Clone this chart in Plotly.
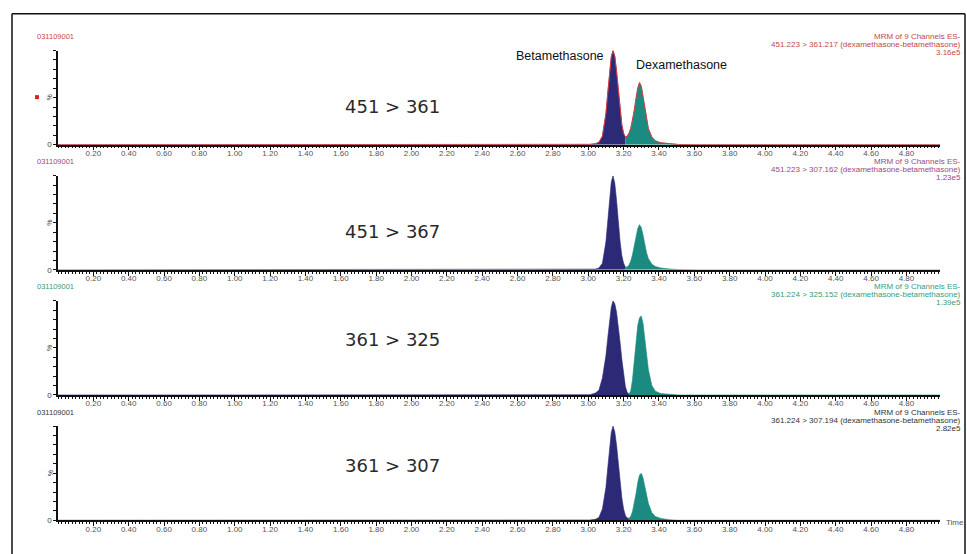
import plotly.graph_objects as go

W, H = 967, 554

# ---------------- data ----------------
TIME = [0.00, 2.91, 3.01, 3.04, 3.06, 3.08, 3.10, 3.11, 3.12, 3.13,
        3.14, 3.15, 3.16, 3.17, 3.18, 3.19, 3.20, 3.21, 3.22, 3.23,
        3.24, 3.25, 3.26, 3.27, 3.28, 3.29, 3.30, 3.31, 3.32, 3.33,
        3.34, 3.36, 3.38, 3.41, 3.46, 3.51, 3.61, 4.99]

P1_451_361 = [0, 0, 0.3, 1, 2.5, 9, 33, 54, 76, 93,
              100, 94, 78, 56, 36, 21, 12, 8, 9, 12,
              17, 25, 36, 49, 60, 66, 62, 51, 38, 26,
              17, 8, 4, 2, 0.8, 0.2, 0, 0]
P2_451_367 = [0, 0, 0.3, 0.8, 2, 7, 30, 52, 75, 93,
              100, 92, 74, 50, 30, 15, 7, 3, 3, 5,
              9, 16, 25, 35, 44, 48, 45, 37, 27, 18,
              12, 6, 3.5, 2, 1, 0.3, 0, 0]
P3_361_325 = [0, 0, 0.3, 2, 5, 18, 42, 60, 78, 93,
              100, 97, 88, 74, 56, 38, 20, 9, 3, 1,
              4, 16, 38, 58, 74, 82, 84, 76, 60, 42,
              27, 10, 4, 1.5, 0.5, 0, 0, 0]
P4_361_307 = [0, 0, 0.3, 1, 3, 12, 35, 55, 76, 93,
              100, 94, 80, 60, 40, 24, 12, 5, 2.5, 2,
              4, 9, 17, 28, 40, 48, 50, 45, 36, 26,
              18, 8, 4, 2, 0.5, 0, 0, 0]
PANELS = [P1_451_361, P2_451_367, P3_361_325, P4_361_307]
VALLEY_INDEX = [17, 17, 19, 19]   # split between Betamethasone / Dexamethasone

TRANSITIONS = ["451 > 361", "451 > 367", "361 > 325", "361 > 307"]
CHANNELS = ["451.223 > 361.217 (dexamethasone-betamethasone)",
            "451.223 > 307.162 (dexamethasone-betamethasone)",
            "361.224 > 325.152 (dexamethasone-betamethasone)",
            "361.224 > 307.194 (dexamethasone-betamethasone)"]
INTENSITIES = ["3.16e5", "1.23e5", "1.39e5", "2.82e5"]
SAMPLE = "031109001"
HEADER = "MRM of 9 Channels ES-"
X_TICKS = [0.2, 0.4, 0.6, 0.8, 1.0, 1.2, 1.4, 1.6, 1.8, 2.0, 2.2, 2.4,
           2.6, 2.8, 3.0, 3.2, 3.4, 3.6, 3.8, 4.0, 4.2, 4.4, 4.6, 4.8]
X_TICK_LABELS = ["0.20", "0.40", "0.60", "0.80", "1.00", "1.20", "1.40",
                 "1.60", "1.80", "2.00", "2.20", "2.40", "2.60", "2.80",
                 "3.00", "3.20", "3.40", "3.60", "3.80", "4.00", "4.20",
                 "4.40", "4.60", "4.80"]
Y_TICKS = [0, 10, 20, 30, 40, 50, 60, 70, 80, 90, 100]
Y_TICK_LABELS = ["0", "", "", "", "", "", "", "", "", "", ""]

# ---------------- style ----------------
BETA_COLOR = "#2c2a76"
DEXA_COLOR = "#1b8a80"
HEAD_COLORS = ["#c24848", "#9a4a7c", "#3b9a78", "#333333"]
LABEL_Y = [107, 234, 343, 470]

def px(x):
    return x / W

def py(y):
    return 1 - y / H

X0, X1 = 58, 940
BASE = [146, 272.3, 398.6, 525]
PH = 95

fig = go.Figure()
layout = dict(width=W, height=H, margin=dict(l=0, r=0, t=0, b=0),
              paper_bgcolor="white", plot_bgcolor="white",
              showlegend=False, font=dict(family="Liberation Sans"))
annotations = []
shapes = []

def note(x, y, text, size, color, family="Liberation Sans", xanchor="center", **kw):
    annotations.append(dict(x=px(x), y=py(y), xref="paper", yref="paper", text=text,
                            showarrow=False, xanchor=xanchor, yanchor="middle",
                            font=dict(size=size, color=color, family=family), **kw))

for i, vals in enumerate(PANELS):
    n = i + 1
    xa = "x" if n == 1 else f"x{n}"
    ya = "y" if n == 1 else f"y{n}"
    s = VALLEY_INDEX[i]
    fig.add_trace(go.Scatter(x=TIME[:s + 1], y=vals[:s + 1], xaxis=xa, yaxis=ya,
                             mode="lines", fill="tozeroy", fillcolor=BETA_COLOR,
                             line=dict(color=BETA_COLOR, width=0.6), hoverinfo="skip"))
    fig.add_trace(go.Scatter(x=TIME[s:], y=vals[s:], xaxis=xa, yaxis=ya,
                             mode="lines", fill="tozeroy", fillcolor=DEXA_COLOR,
                             line=dict(color=DEXA_COLOR, width=0.6), hoverinfo="skip"))
    if i == 0:
        fig.add_trace(go.Scatter(x=TIME, y=vals, xaxis=xa, yaxis=ya, mode="lines",
                                 line=dict(color="#d83c3c", width=1), hoverinfo="skip"))

    b = BASE[i]
    layout["xaxis" if n == 1 else f"xaxis{n}"] = dict(
        domain=[px(X0), px(X1)], anchor=ya, range=[0, 4.99],
        tickvals=X_TICKS, ticktext=X_TICK_LABELS, ticks="outside", ticklen=4,
        tickwidth=1, tickcolor="#111", showline=True, linecolor="#111", linewidth=1.5,
        showgrid=False, zeroline=False, ticklabelstandoff=-4,
        tickfont=dict(size=8, color="#555", family="Liberation Sans"),
        minor=dict(dtick=0.02, tick0=0, ticks="outside", ticklen=2, tickcolor="#111",
                   tickwidth=0.8, showgrid=False))
    layout["yaxis" if n == 1 else f"yaxis{n}"] = dict(
        domain=[py(b), py(b - PH)], anchor=xa, range=[0, 100],
        tickvals=Y_TICKS, ticktext=Y_TICK_LABELS, ticks="outside", ticklen=3,
        tickwidth=1, tickcolor="#111", showline=True, linecolor="#111", linewidth=1.5,
        showgrid=False, zeroline=False,
        tickfont=dict(size=8, color="#444", family="Liberation Sans"))

    c = HEAD_COLORS[i]
    hy = 37 + 126.3 * i
    note(35, hy, SAMPLE, 7.5, c, xanchor="left")
    for k, t in enumerate([HEADER, CHANNELS[i], INTENSITIES[i]]):
        note(963, hy + 8 * k, t, 8, c, xanchor="right")
    note(50, b - PH / 2, "%", 7, "#444", textangle=-90)
    note(392, LABEL_Y[i], TRANSITIONS[i], 18, "#2a2a2a", family="DejaVu Sans")

note(560, 57, "Betamethasone", 12.5, "#111")
note(681, 66, "Dexamethasone", 12.5, "#111")
note(944, 527, "Time", 8, "#555", xanchor="left")

# red marker and frame
shapes.append(dict(type="rect", xref="paper", yref="paper", x0=px(35), x1=px(39),
                   y0=py(100), y1=py(96), fillcolor="#e02020", line=dict(width=0)))
for (x0, y0, x1, y1) in [(12, 14, 965, 14), (12, 14, 12, 560), (965, 14, 965, 560)]:
    shapes.append(dict(type="line", xref="paper", yref="paper", x0=px(x0), y0=py(y0),
                       x1=px(x1), y1=py(y1), line=dict(color="#111", width=1.5)))

layout["annotations"] = annotations
layout["shapes"] = shapes
fig.update_layout(**layout)
fig.write_html("out.html", config={"displayModeBar": False},
               post_script="document.body.style.margin='0';document.body.style.padding='0';"
                           "document.body.style.overflow='hidden';")
